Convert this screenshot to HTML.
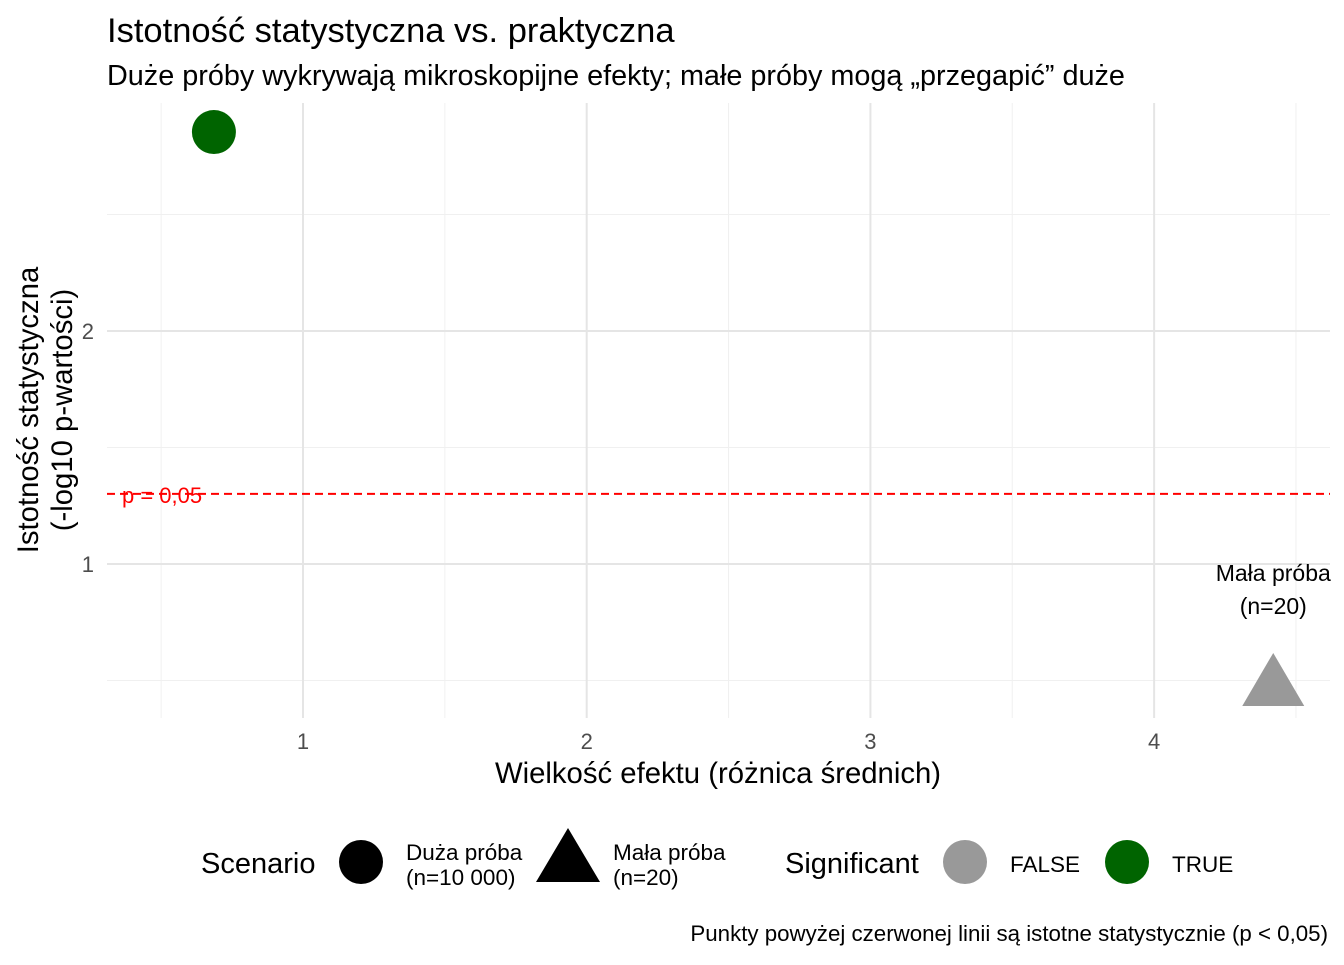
<!DOCTYPE html>
<html><head><meta charset="utf-8"><style>
body{margin:0;background:#fff;font-family:"Liberation Sans",Arial,sans-serif}
svg text{font-family:"Liberation Sans",Arial,sans-serif}
</style></head><body>
<svg id="chart" width="1344" height="960" xmlns="http://www.w3.org/2000/svg">
<rect width="1344" height="960" fill="#fff"/>
<text x="107" y="42" font-size="34.5" fill="#000">Istotność statystyczna vs. praktyczna</text>
<text x="107" y="85" font-size="28.8" fill="#000">Duże próby wykrywają mikroskopijne efekty; małe próby mogą „przegapić” duże</text>
<g id="grid"></g>
<g id="marks"></g>
<text transform="translate(38,410) rotate(-90)" text-anchor="middle" font-size="29.3">Istotność statystyczna</text>
<text transform="translate(72,410) rotate(-90)" text-anchor="middle" font-size="29.3">(-log10 p-wartości)</text>
<text x="718" y="783" text-anchor="middle" font-size="29.3">Wielkość efektu (różnica średnich)</text>
<g>
<text x="201" y="873" font-size="29">Scenario</text>
<circle cx="361" cy="862" r="22" fill="#000"/>
<text x="406" y="860" font-size="22.5">Duża próba</text>
<text x="406" y="885" font-size="22.5">(n=10 000)</text>
<polygon points="568,828 600,882 536,882" fill="#000"/>
<text x="613" y="860" font-size="22.5">Mała próba</text>
<text x="613" y="885" font-size="22.5">(n=20)</text>
<text x="785" y="873" font-size="29">Significant</text>
<circle cx="965" cy="862" r="22" fill="#999"/>
<text x="1010" y="872" font-size="22.5">FALSE</text>
<circle cx="1127" cy="862" r="22" fill="#006400"/>
<text x="1172" y="872" font-size="22.5">TRUE</text>
</g>
<text x="1328" y="941" text-anchor="end" font-size="22.3">Punkty powyżej czerwonej linii są istotne statystycznie (p &lt; 0,05)</text>
</svg>
<script>
const xTicks=[1,2,3,4];
const yTicks=[1,2];
const xMinor=[0.5,1.5,2.5,3.5,4.5];
const yMinor=[0.5,1.5,2.5];
const scenarios=["Duża próba (n=10 000)","Mała próba (n=20)"];
const effects=[0.686,4.42];
const logp=[2.854,0.468];
const significant=[true,false];
const threshold=1.301;
const X0=107,X1=1330,Y0=103,Y1=718;
const sx=v=>303+(v-1)*283.7;
const sy=v=>564-(v-1)*233;
const NS="http://www.w3.org/2000/svg";
const grid=document.getElementById('grid'),marks=document.getElementById('marks');
function mk(tag,attrs,parent){const e=document.createElementNS(NS,tag);for(const k in attrs)e.setAttribute(k,attrs[k]);parent.appendChild(e);return e;}
xMinor.forEach(v=>{const l=mk('line',{x1:sx(v),x2:sx(v),y1:Y0,y2:Y1,stroke:'#f0f0f0','stroke-width':1},grid);

});
yMinor.forEach(v=>{const l=mk('line',{x1:X0,x2:X1,y1:sy(v),y2:sy(v),stroke:'#f0f0f0','stroke-width':1},grid);

});
xTicks.forEach(v=>{const l=mk('line',{x1:sx(v),x2:sx(v),y1:Y0,y2:Y1,stroke:'#e5e5e5','stroke-width':2},grid);


const t=mk('text',{x:sx(v),y:749,'text-anchor':'middle','font-size':22,fill:'#4d4d4d'},grid);t.textContent=v;

});
yTicks.forEach(v=>{const l=mk('line',{x1:X0,x2:X1,y1:sy(v),y2:sy(v),stroke:'#e5e5e5','stroke-width':2},grid);


const t=mk('text',{x:94,y:sy(v)+8,'text-anchor':'end','font-size':22,fill:'#4d4d4d'},grid);t.textContent=v;

});
const th=mk('line',{x1:X0,x2:X1,y1:sy(threshold),y2:sy(threshold),stroke:'#ff0000','stroke-width':2,'stroke-dasharray':'8,5'},marks);


const tl=mk('text',{x:122,y:sy(threshold)+9,'font-size':22,fill:'#ff0000'},marks);tl.textContent='p = 0,05';


effects.forEach((e,i)=>{const cx=sx(e),cy=sy(logp[i]);const col=significant[i]?'#006400':'#999999';let m;
if(i===0){m=mk('circle',{cx:cx,cy:cy,r:22,fill:col},marks);}
else{m=mk('polygon',{points:`${cx},${cy-35} ${cx+31},${cy+18} ${cx-31},${cy+18}`,fill:col},marks);
const a=mk('text',{x:cx,y:sy(logp[i])-107,'text-anchor':'middle','font-size':23},marks);a.textContent='Mała próba';


const b=mk('text',{x:cx,y:sy(logp[i])-74,'text-anchor':'middle','font-size':23},marks);b.textContent='(n=20)';

}

});
</script>
</body></html>
